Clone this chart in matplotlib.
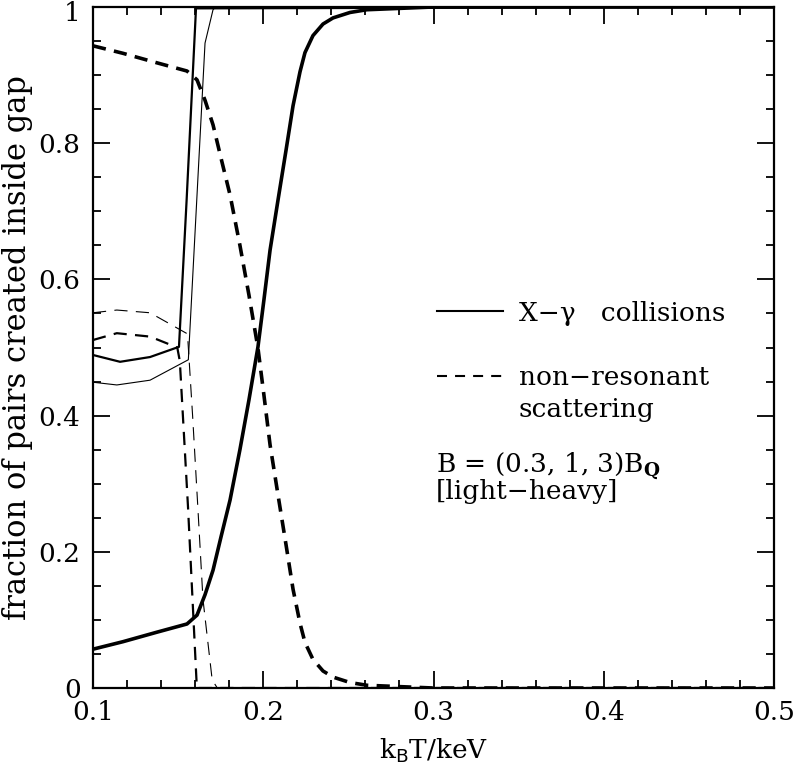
import matplotlib
matplotlib.use("Agg")
from matplotlib import pyplot as plt
from matplotlib.lines import Line2D
from matplotlib.ticker import MultipleLocator, FixedLocator
import matplotlib.transforms as mtransforms

plt.rcParams['font.family'] = ['DejaVu Serif']
plt.rcParams['mathtext.fontset'] = 'dejavuserif'
plt.rcParams['lines.scale_dashes'] = False

# thick curves (solid = X-gamma collisions, dashed = non-resonant scattering)
x_thick = [0.1, 0.1176, 0.1376, 0.1552, 0.1611, 0.1658, 0.1705, 0.1752, 0.1805, 0.1863,
           0.1916, 0.1969, 0.2004, 0.204, 0.2087, 0.2134, 0.2175, 0.2216, 0.2245, 0.2292,
           0.2351, 0.241, 0.251, 0.2609, 0.2803, 0.2997, 0.5]
y_thick_solid = [0.057, 0.068, 0.082, 0.094, 0.107, 0.137, 0.173, 0.222, 0.276, 0.35,
                 0.423, 0.501, 0.57, 0.643, 0.717, 0.79, 0.855, 0.905, 0.933, 0.958,
                 0.975, 0.984, 0.992, 0.996, 0.998, 1.0, 1.0]
y_thick_dash = [0.943, 0.932, 0.918, 0.906, 0.893, 0.863, 0.827, 0.778, 0.724, 0.65,
                0.577, 0.499, 0.43, 0.357, 0.283, 0.21, 0.145, 0.095, 0.067, 0.042,
                0.025, 0.016, 0.008, 0.004, 0.002, 0.0, 0.0]

# medium curves
x_med_solid = [0.1, 0.1159, 0.1335, 0.1505, 0.155, 0.1605, 0.5]
y_med_solid = [0.489, 0.479, 0.486, 0.501, 0.717, 0.998, 1.0]
x_med_dash = [0.1, 0.114, 0.1335, 0.1495, 0.151, 0.1558, 0.161, 0.5]
y_med_dash = [0.511, 0.521, 0.516, 0.50, 0.48, 0.266, 0.0, 0.0]

# thin curves
x_thin_solid = [0.1, 0.114, 0.1335, 0.156, 0.1658, 0.1705, 0.172, 0.5]
y_thin_solid = [0.449, 0.445, 0.452, 0.482, 0.947, 0.996, 1.0, 1.0]
x_thin_dash = [0.1, 0.114, 0.1335, 0.1555, 0.1585, 0.1617, 0.1646, 0.17, 0.173, 0.5]
y_thin_dash = [0.551, 0.555, 0.551, 0.52, 0.40, 0.26, 0.13, 0.012, 0.0, 0.0]

x_ticks = [0.1, 0.2, 0.3, 0.4, 0.5]
x_tick_labels = ['0.1', '0.2', '0.3', '0.4', '0.5']
y_ticks = [0, 0.2, 0.4, 0.6, 0.8, 1]
y_tick_labels = ['0', '0.2', '0.4', '0.6', '0.8', '1']

dash = (0, (9.5, 6.0))

fig = plt.figure(figsize=(7.96, 7.70), dpi=100)
ax = fig.add_axes([93/796, 1-688/770, (774-93)/796, (688-7)/770])

ax.plot(x_thick, y_thick_solid, c="black", lw=2.6)
ax.plot(x_thick, y_thick_dash, c="black", lw=2.6, ls=dash)
ax.plot(x_med_solid, y_med_solid, c="black", lw=1.6)
ax.plot(x_med_dash, y_med_dash, c="black", lw=1.6, ls=dash)
ax.plot(x_thin_solid, y_thin_solid, c="black", lw=0.8)
ax.plot(x_thin_dash, y_thin_dash, c="black", lw=0.8, ls=dash)

ax.set_xlim(0.1, 0.5)
ax.set_ylim(0, 1)
ax.xaxis.set_major_locator(FixedLocator(x_ticks))
ax.set_xticklabels(x_tick_labels)
ax.yaxis.set_major_locator(FixedLocator(y_ticks))
ax.set_yticklabels(y_tick_labels)
ax.xaxis.set_minor_locator(MultipleLocator(0.02))
ax.yaxis.set_minor_locator(MultipleLocator(0.05))
ax.tick_params(which='both', direction='in', top=True, right=True, width=1.3,
               labelsize=19, colors='black')
ax.tick_params(which='major', length=12, pad=9)
ax.tick_params(which='minor', length=6)
for s in ax.spines.values():
    s.set_linewidth(1.6)

# nudge the top "1" label down a little so it sits inside the figure
top_lab = ax.get_yticklabels()[-1]
top_lab.set_transform(top_lab.get_transform() +
                      mtransforms.ScaledTranslation(0, -4/100, fig.dpi_scale_trans))

ax.set_xlabel(r'k$_{\mathsf{B}}$T/keV', fontsize=19, labelpad=8)
ax.set_ylabel('fraction of pairs created inside gap', fontsize=22, labelpad=4)

handles = [Line2D([], [], c="black", lw=1.5),
           Line2D([], [], c="black", lw=1.5, ls=(0, (7.2, 5.8)))]
leg = ax.legend(handles, ['X\u2212\u03b3   collisions', 'non\u2212resonant'],
                loc='upper left', bbox_to_anchor=((433-93)/681-0.01, (688-290)/681),
                frameon=False, fontsize=19, handlelength=2.5, handletextpad=0.6,
                labelspacing=1.5, borderaxespad=0)

ax.text((518-93)/681, (688-410)/681, 'scattering', transform=ax.transAxes,
        fontsize=19, va='center', ha='left')
ax.text((436-93)/681, (688-466)/681, r'B = (0.3, 1, 3)B$_{\mathbf{Q}}$', transform=ax.transAxes,
        fontsize=19, va='center', ha='left')
ax.text((436-93)/681, (688-492)/681, '[light\u2212heavy]', transform=ax.transAxes,
        fontsize=19, va='center', ha='left')

fig.savefig("out.png", dpi=100)
